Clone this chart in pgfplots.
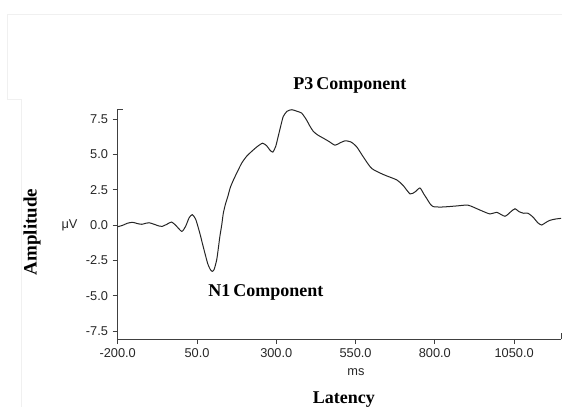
\documentclass[border=0pt]{standalone}
\usepackage{fontspec}
\setmainfont{Liberation Serif}
\newfontfamily\sansf{Liberation Sans}
\usepackage{pgfplots}
\pgfplotsset{compat=1.18}

\begin{document}
\begin{tikzpicture}
% page = 562x406 px, 1 px = 0.75pt, axis box lower left at (0,0)
\useasboundingbox (-88.28pt,-50.25pt) rectangle (333.2pt,254.25pt);
\begin{axis}[
  scale only axis,
  width=332.5pt, height=172.5pt,
  xmin=-200, xmax=1198,
  ymin=-8.07, ymax=8.21,
  axis x line=bottom, axis y line=left,
  axis line style={-, black!75, line width=0.6pt},
  tick align=outside,
  major tick length=3.8pt,
  tick style={black!75, line width=0.6pt},
  xtick={-200,50,300,550,800,1050},
  xticklabels={-200.0,50.0,300.0,550.0,800.0,1050.0},
  ytick={-7.5,-5,-2.5,0,2.5,5,7.5},
  yticklabels={-7.5,-5.0,-2.5,0.0,2.5,5.0,7.5},
  ticklabel style={font=\sansf\fontsize{9.6}{11}\selectfont, text=black!85},
  clip=false,
]
\addplot[black!85, line width=0.75pt, smooth, tension=0.4] coordinates {
(-200,-0.12) (-185,-0.03) (-170,0.12) (-153,0.19) (-138,0.10) (-124,0.05)
(-112,0.12) (-101,0.16) (-85,0.05) (-70,-0.07) (-60,-0.10) (-45,0.05)
(-30,0.21) (-16,-0.05) (2,-0.45) (14,-0.10) (25,0.50) (35,0.73) (46,0.40)
(59,-0.59) (67,-1.30) (75,-2.00) (84,-2.75) (92,-3.15) (98,-3.28) (104,-3.15)
(112,-2.48) (117,-1.70) (122,-0.83) (128,0.00) (133,0.83) (140,1.50)
(147,2.00) (155,2.65) (165,3.19) (178,3.80) (191,4.38) (206,4.85) (222,5.20)
(240,5.55) (257,5.79) (270,5.60) (280,5.30) (289,5.16) (298,5.55) (306,6.26)
(314,7.00) (322,7.68) (334,8.05) (349,8.16) (365,8.05) (380,7.92) (395,7.45)
(406,7.00) (417,6.62) (432,6.35) (448,6.15) (467,5.90) (485,5.65) (500,5.80)
(517,5.96) (535,5.88) (553,5.55) (575,4.80) (601,4.00) (640,3.55) (680,3.19)
(700,2.80) (722,2.20) (738,2.35) (753,2.62) (765,2.20) (774,1.89) (785,1.50)
(795,1.30) (820,1.27) (842,1.30) (870,1.35) (905,1.40) (942,1.06) (974,0.78)
(995,0.90) (1021,0.62) (1040,0.95) (1053,1.15) (1065,0.95) (1080,0.83)
(1094,0.83) (1110,0.55) (1125,0.15) (1137,0.00) (1150,0.18) (1163,0.33)
(1180,0.42) (1198,0.47)
};
% end caps of the axis lines
\draw[black!75, line width=0.6pt] (axis cs:-200,8.21) -- (axis cs:-184,8.21);
\draw[black!75, line width=0.6pt] (axis cs:1198,-8.07) -- (axis cs:1198,-7.65);
% faint frame of the source figure
\draw[black!6, line width=0.5pt] (axis cs:1201,14.89) -- (axis cs:-549,14.89)
  -- (axis cs:-549,8.87) -- (axis cs:-505,8.87) -- (axis cs:-505,-13);
% labels
\node[anchor=base, font=\bfseries\fontsize{13.5}{15}\selectfont] at (axis cs:532,9.57) {P3\,Component};
\node[anchor=base, font=\bfseries\fontsize{13.5}{15}\selectfont] at (axis cs:267.5,-5.08) {N1\,Component};
\node[anchor=base, font=\bfseries\fontsize{13.5}{15}\selectfont] at (axis cs:513,-12.66) {Latency};
\node[rotate=90, font=\bfseries\fontsize{14.2}{16}\selectfont] at (axis cs:-470,-0.5) {Amplitude};
\node[anchor=base, font=\sansf\fontsize{9.6}{11}\selectfont, text=black!85] at (axis cs:551,-10.64) {ms};
\node[font=\sansf\fontsize{9.6}{11}\selectfont, text=black!85] at (axis cs:-352,0) {μV};
\end{axis}
\end{tikzpicture}
\end{document}
